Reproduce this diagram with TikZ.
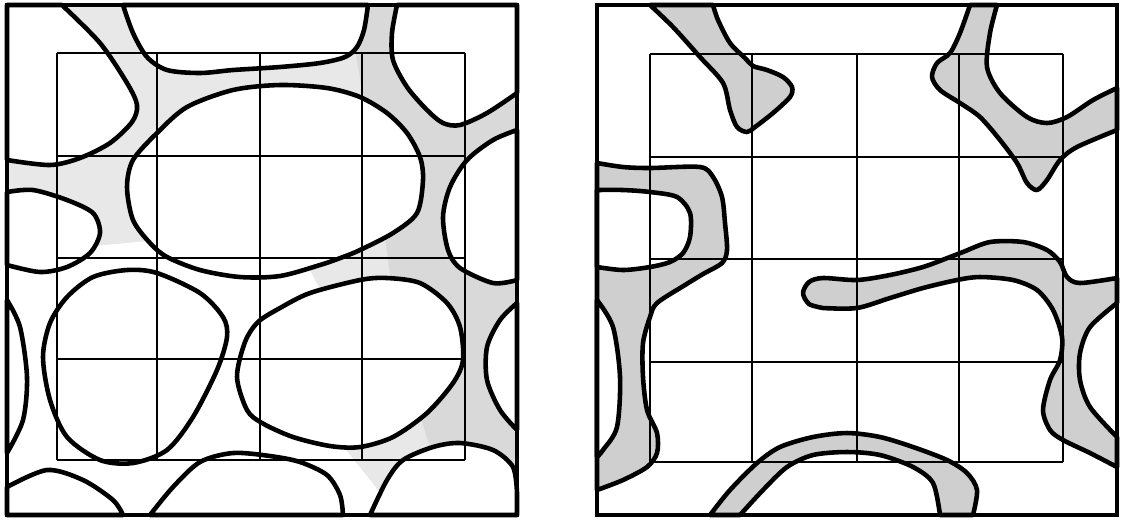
\documentclass[tikz,border=0pt]{standalone}
\begin{document}
\begin{tikzpicture}[x=0.01cm,y=-0.01cm,
  blob/.style={draw=black,line width=1.3pt,line join=round},
  hole/.style={blob,fill=white},
  stipL/.style={fill=black!9},
  stipLd/.style={fill=black!15},
  stipR/.style={blob,fill=black!19},
  gridl/.style={draw=black,line width=0.6pt},
  frameline/.style={draw=black,line width=1.3pt}]
\useasboundingbox (0,0) rectangle (1122,520);
% ================= LEFT PANEL =================
\fill[stipL] (7,5) rectangle (517,515);
\fill[stipLd] (350,5) -- (517,5) -- (517,515) -- (440,515) -- (440,480) -- (400,350) -- (380,200) -- (352,30) -- cycle;
\fill[white] (7,250) -- (50,250) -- (160,240) -- (300,250) -- (330,310) -- (330,430) -- (390,505) -- (390,515) -- (7,515) -- cycle;
% holes
\path[hole] plot[smooth] coordinates {(62,5) (100,43) (127,83) (137,105) (132,122) (110,143) (80,158) (50,165) (7,160)} -- (7,5) -- cycle;
\path[hole] plot[smooth] coordinates {(123,5) (133,33) (147,57) (167,70) (200,73) (233,70) (280,67) (320,63) (345,57) (357,47) (364,30) (368,5)} -- cycle;
\path[hole] plot[smooth] coordinates {(397,5) (392,33) (393,60) (407,87) (427,110) (443,123) (460,125) (487,113) (517,93)} -- (517,5) -- cycle;
\path[hole] plot[smooth cycle] coordinates {(280,85) (233,90) (187,107) (157,133) (133,160) (127,187) (133,220) (150,243) (167,257) (200,270) (240,277) (280,276) (320,265) (343,257) (360,250) (393,233) (417,213) (423,180) (420,157) (407,133) (387,113) (360,97) (327,88)};
\path[hole] plot[smooth] coordinates {(7,192) (33,190) (67,200) (93,213) (100,233) (90,253) (67,267) (40,272) (7,265)} -- cycle;
\path[hole] plot[smooth] coordinates {(7,300) (20,327) (27,377) (23,420) (7,453)} -- cycle;
\path[hole] plot[smooth cycle] coordinates {(127,270) (157,273) (200,293) (223,317) (227,337) (217,370) (193,417) (167,450) (133,463) (100,460) (67,437) (50,400) (43,357) (50,323) (67,297) (93,277)};
\path[hole] plot[smooth cycle] coordinates {(360,280) (310,293) (280,308) (258,322) (245,342) (237,377) (247,410) (262,423) (293,437) (330,446) (360,447) (393,437) (427,413) (453,383) (463,360) (460,327) (447,303) (420,283) (387,278)};
\path[hole] plot[smooth] coordinates {(517,303) (500,320) (487,347) (487,380) (500,410) (517,430)} -- cycle;
\path[hole] plot[smooth] coordinates {(517,130) (493,140) (467,160) (450,187) (443,217) (448,250) (460,268) (493,283) (517,280)} -- cycle;
\path[hole] plot[smooth] coordinates {(7,487) (47,470) (83,480) (113,500) (123,515)} -- (7,515) -- cycle;
\path[hole] plot[smooth] coordinates {(150,515) (173,487) (200,462) (233,453) (270,456) (300,462) (327,475) (340,495) (343,515)} -- cycle;
\path[hole] plot[smooth] coordinates {(370,515) (387,480) (403,460) (433,447) (460,443) (493,450) (513,467) (517,493)} -- (517,515) -- cycle;
% grid
\foreach \gx in {57,157,260,362,465} \draw[gridl] (\gx,53) -- (\gx,460);
\foreach \gy in {53,156,258,359,460} \draw[gridl] (57,\gy) -- (465,\gy);
\draw[frameline] (7,5) rectangle (517,515);
% ================= RIGHT PANEL =================
\path[stipR] plot[smooth] coordinates {(650,5) (673,27) (700,57) (723,83) (730,110) (737,127) (747,132) (755,127) (773,113) (790,97) (792,87) (783,77) (767,70) (753,66) (745,58) (730,43) (718,20) (713,5)} -- cycle;
\path[stipR] plot[smooth] coordinates {(597,163) (623,167) (650,168) (700,167) (713,177) (722,197) (725,223) (727,250) (722,263) (703,274) (685,285) (657,303) (650,317) (643,343) (643,377) (647,410) (657,433) (657,453) (647,467) (623,480) (597,490)} -- cycle;
\path[hole] plot[smooth] coordinates {(597,190) (623,190) (650,192) (677,197) (690,213) (690,237) (683,253) (670,262) (650,267) (623,270) (597,267)} -- cycle;
\path[hole] plot[smooth] coordinates {(597,300) (613,327) (620,377) (617,427) (603,450) (597,457)} -- cycle;
\path[stipR] plot[smooth] coordinates {(970,5) (960,33) (950,53) (937,63) (932,77) (940,90) (960,103) (980,117) (1000,140) (1017,163) (1027,183) (1037,190) (1047,180) (1060,160) (1077,147) (1117,130)} -- (1117,88)
  -- plot[smooth] coordinates {(1117,88) (1093,100) (1067,117) (1047,123) (1027,117) (1000,93) (987,67) (990,33) (997,5)} -- cycle;
\path[stipR] plot[smooth] coordinates {(823,308) (809,304) (803,293) (809,282) (823,278) (857,280) (890,275) (923,267) (950,257) (963,252) (990,242) (1023,242) (1047,250) (1060,262) (1067,277) (1080,283) (1117,278)} -- (1117,303)
  -- plot[smooth] coordinates {(1117,303) (1090,327) (1080,353) (1080,380) (1090,407) (1117,437)} -- (1117,467)
  -- plot[smooth] coordinates {(1117,467) (1090,453) (1063,440) (1050,430) (1043,410) (1050,380) (1060,360) (1062,337) (1053,310) (1037,290) (1013,280) (980,277) (957,280) (923,288) (890,298) (857,308) (823,308)} -- cycle;
\path[stipR] plot[smooth] coordinates {(710,515) (730,490) (757,463) (780,447) (813,437) (847,433) (880,437) (913,447) (947,460) (967,473) (977,490) (973,515)} -- (940,515)
  -- plot[smooth] coordinates {(940,515) (933,483) (913,467) (880,455) (847,452) (813,455) (787,467) (763,490) (740,515)} -- cycle;
% grid
\foreach \gx in {650,752,857,959,1063} \draw[gridl] (\gx,54) -- (\gx,462);
\foreach \gy in {54,157,259,362,462} \draw[gridl] (650,\gy) -- (1063,\gy);
\draw[frameline] (597,5) rectangle (1117,515);
\end{tikzpicture}
\end{document}
